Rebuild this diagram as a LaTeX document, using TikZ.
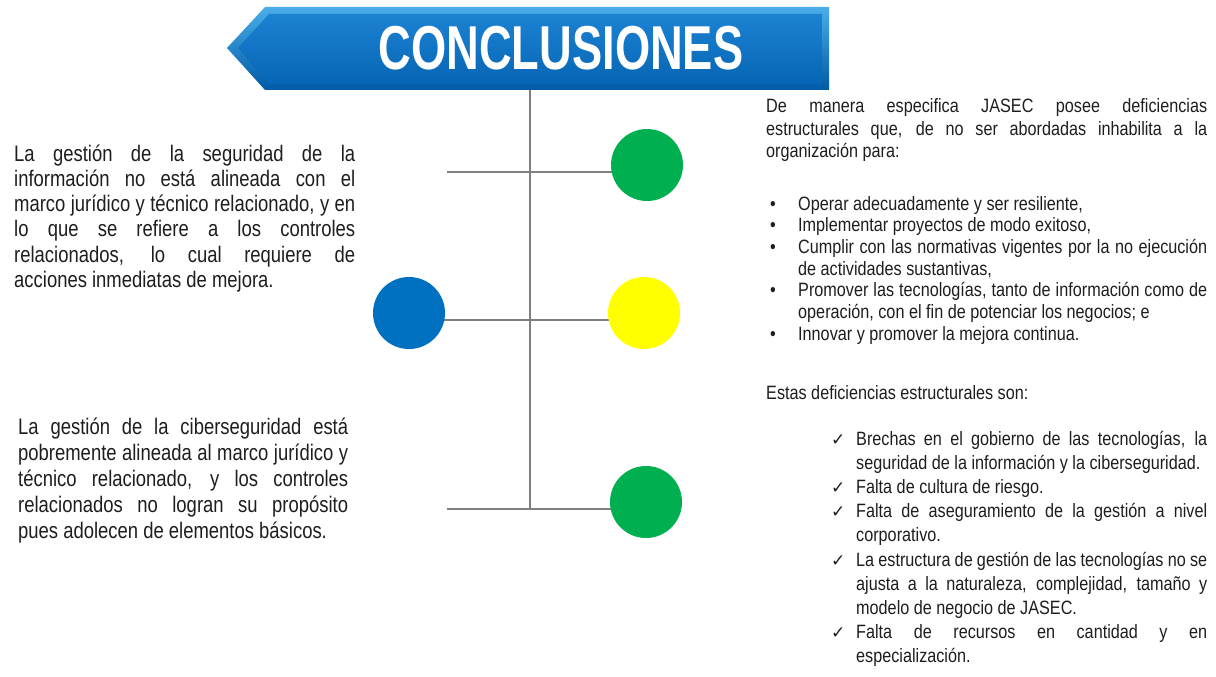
\documentclass[tikz,border=0pt]{standalone}
\usepackage{fontspec}
\setmainfont{Liberation Sans}[FakeStretch=0.82]
\newfontfamily\rightfont{Liberation Sans}[FakeStretch=0.84]
\newfontfamily\titlefont{Liberation Sans}[FakeStretch=0.73]
\newfontfamily\symfont{DejaVu Sans}
\usetikzlibrary{backgrounds}
\definecolor{txt}{HTML}{1E1E1E}
\definecolor{linegray}{HTML}{7F7F7F}
\definecolor{cgreen}{HTML}{00B050}
\definecolor{cyellow}{HTML}{FFFF00}
\definecolor{cblue}{HTML}{0070C0}
\definecolor{banlight}{HTML}{4AAEEA}
\definecolor{bandark}{HTML}{005AA6}
\definecolor{facetop}{HTML}{1C82D2}
\definecolor{facebot}{HTML}{0765B5}
\newcommand\jline[1]{\noindent\makebox[\linewidth][s]{#1}\par}
\newcommand\lline[1]{\noindent #1\par}
\newcommand\mkr[2]{\noindent\llap{\makebox[#1][l]{#2}}}
\tikzset{
  dot/.style={circle, minimum size=72pt, inner sep=0pt, fill=#1},
  conn/.style={draw=linegray, line width=2pt},
  textblock/.style={anchor=base west, inner sep=0pt, text=txt}
}
\begin{document}
\begin{tikzpicture}[x=1pt,y=-1pt]
\useasboundingbox (0,0) rectangle (1216,677);
% banner
\shade[top color=banlight, bottom color=bandark]
  (227,48) -- (265,7) -- (829,7) -- (829,90) -- (265,90) -- cycle;
\shade[top color=facetop, bottom color=facebot]
  (238,48) -- (269,14) -- (822,14) -- (822,84) -- (269,84) -- cycle;
\node[inner sep=0pt, text=white] (title) at (561,48)
  {\fontsize{62}{62}\selectfont\titlefont\bfseries CONCLUSIONES};
% circles
\node[dot=cgreen] (g1) at (647,165) {};
\node[dot=cblue] (b1) at (409,313) {};
\node[dot=cyellow] (y1) at (644,313) {};
\node[dot=cgreen] (g2) at (646,502) {};
\coordinate (vtop) at (530,90);
\coordinate (vbot) at (530,509);
\coordinate (h1l) at (447,172);
\coordinate (h2l) at (409,320);
\coordinate (h3l) at (447,509);
\begin{scope}[on background layer]
\fill[white] (0,0) rectangle (1216,677);
\draw[conn] (vtop) -- (vbot);
\draw[conn] (h1l) -- (h1l -| g1.center);
\draw[conn] (h2l) -- (h2l -| y1.center);
\draw[conn] (h3l) -- (h3l -| g2.center);
\end{scope}
% left text 1
\node[textblock] (left1) at (14,161) {\parbox[t]{341pt}{%
\fontsize{22.5}{25.3}\selectfont\lineskiplimit=-\maxdimen\parskip=0pt
\jline{La gestión de la seguridad de la}
\jline{información no está alineada con el}
\jline{marco jurídico y técnico relacionado, y en}
\jline{lo que se refiere a los controles}
\jline{relacionados, lo cual requiere de}
\lline{acciones inmediatas de mejora.}}};
% left text 2
\node[textblock] (left2) at (18,434) {\parbox[t]{330pt}{%
\fontsize{22.5}{26}\selectfont\lineskiplimit=-\maxdimen\parskip=0pt
\jline{La gestión de la ciberseguridad está}
\jline{pobremente alineada al marco jurídico y}
\jline{técnico relacionado, y los controles}
\jline{relacionados no logran su propósito}
\lline{pues adolecen de elementos básicos.}}};
% right intro
\node[textblock] (intro) at (766,113) {\parbox[t]{441pt}{%
\rightfont\fontsize{19.3}{22}\selectfont\lineskiplimit=-\maxdimen\parskip=0pt
\jline{De manera especifica JASEC posee deficiencias}
\jline{estructurales que, de no ser abordadas inhabilita a la}
\lline{organización para:}}};
% bullets
\node[textblock] (bullets) at (798,210) {\parbox[t]{409pt}{%
\rightfont\fontsize{19.3}{21.7}\selectfont\lineskiplimit=-\maxdimen\parskip=0pt
\mkr{28pt}{•}\lline{Operar adecuadamente y ser resiliente,}
\mkr{28pt}{•}\lline{Implementar proyectos de modo exitoso,}
\mkr{28pt}{•}\jline{Cumplir con las normativas vigentes por la no ejecución}
\lline{de actividades sustantivas,}
\mkr{28pt}{•}\jline{Promover las tecnologías, tanto de información como de}
\lline{operación, con el fin de potenciar los negocios; e}
\mkr{28pt}{•}\lline{Innovar y promover la mejora continua.}}};
% estas
\node[textblock] (estas) at (766,399)
  {\rightfont\fontsize{19.3}{22}\selectfont Estas deficiencias estructurales son:};
% checks
\node[textblock] (checks) at (856,445) {\parbox[t]{351pt}{%
\rightfont\fontsize{19.3}{24.2}\selectfont\lineskiplimit=-\maxdimen\parskip=0pt
\def\ck{\mkr{25pt}{{\symfont\fontsize{17}{17}\selectfont ✓}}}%
\ck\jline{Brechas en el gobierno de las tecnologías, la}
\lline{seguridad de la información y la ciberseguridad.}
\ck\lline{Falta de cultura de riesgo.}
\ck\jline{Falta de aseguramiento de la gestión a nivel}
\lline{corporativo.}
\ck\jline{La estructura de gestión de las tecnologías no se}
\jline{ajusta a la naturaleza, complejidad, tamaño y}
\lline{modelo de negocio de JASEC.}
\ck\jline{Falta de recursos en cantidad y en}
\lline{especialización.}}};
\end{tikzpicture}
\end{document}
